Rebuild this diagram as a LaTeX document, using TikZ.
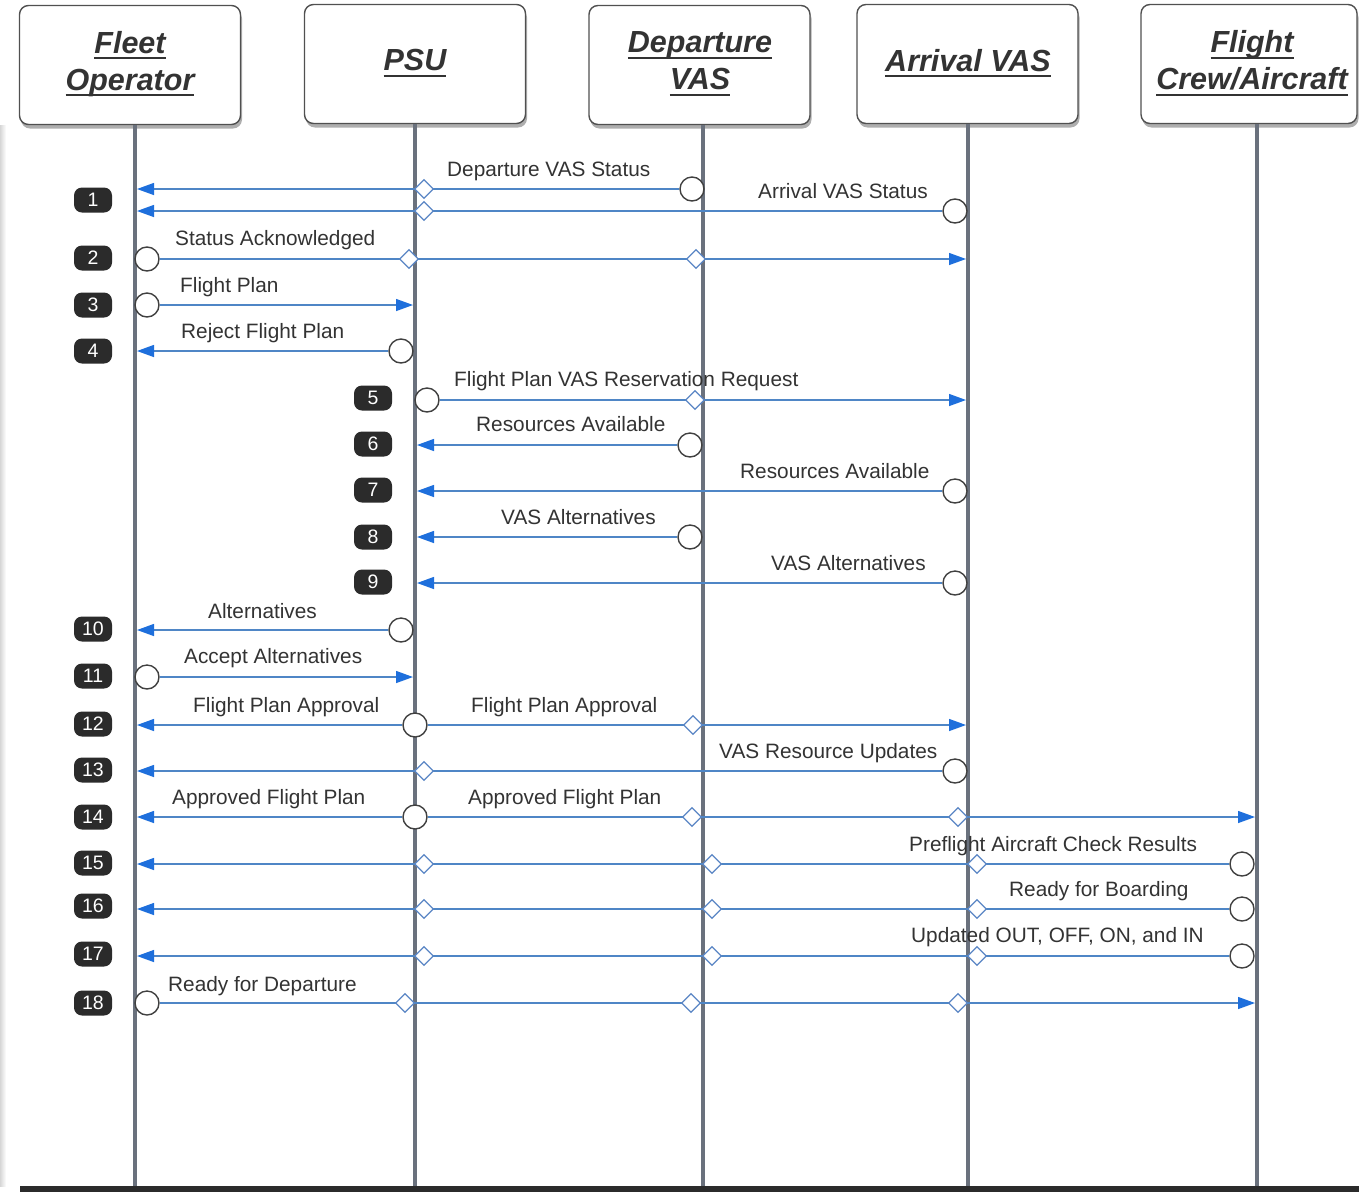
\documentclass[tikz,border=0pt]{standalone}
\usepackage{fontspec}
\usetikzlibrary{arrows.meta,shapes.geometric,shadows}
\newfontfamily\sansfam{Liberation Sans}
\newcommand\lblfont{\sansfam\fontsize{20.8}{25}\selectfont}
\newcommand\headfont{\sansfam\bfseries\itshape\fontsize{30.5}{37}\selectfont}
\newcommand\badgefont{\sansfam\fontsize{19.5}{22}\selectfont}
\newcommand\hdul[1]{\setbox0\hbox{#1}\rlap{\rule[-6pt]{\wd0}{2pt}}\box0}
\definecolor{boxline}{HTML}{505050}
\definecolor{lifegray}{HTML}{6A717D}
\definecolor{msgblue}{HTML}{4F86C6}
\definecolor{tipblue}{HTML}{1E6FDC}
\definecolor{diablue}{HTML}{5B86C5}
\definecolor{circgray}{HTML}{404040}
\definecolor{badgeblack}{HTML}{2B2B2B}
\definecolor{textgray}{HTML}{333333}
\tikzset{
  actor/.style={draw=boxline, line width=1.4pt, rounded corners=9pt, fill=white,
    minimum width=221pt, minimum height=119pt, inner sep=0,
    drop shadow={shadow xshift=1.5pt, shadow yshift=-4pt, opacity=0.45, fill=black!70}},
  actortext/.style={font=\headfont, text=textgray, align=center, inner sep=0},
  life/.style={line width=3.6pt, draw=lifegray},
  msg/.style={draw=msgblue, line width=1.3pt},
  tip/.style={-{Triangle[length=17pt,width=12pt,color=tipblue]}},
  src/.style={circle, draw=circgray, line width=1.4pt, fill=white, minimum size=24pt, inner sep=0},
  relay/.style={diamond, draw=diablue, line width=1.3pt, fill=white, minimum width=19pt,
    minimum height=19pt, inner sep=0},
  lbl/.style={font=\lblfont, text=textgray, anchor=base west, inner sep=0},
  badge/.style={fill=badgeblack, rounded corners=8pt, minimum width=38pt, minimum height=25pt,
    inner sep=0, text=white, font=\badgefont},
}
\begin{document}
\begin{tikzpicture}[x=1pt,y=-1pt]
\useasboundingbox (0,0) rectangle (1359,1192);
\fill[white] (0,0) rectangle (1359,1192);
% soft edge on the left
\shade[left color=black!16, right color=white] (0,125) rectangle (6,1186);

% participants
\node[actor] (fo)   at (130,65)    {};
\node[actor] (psu)  at (415,64)    {};
\node[actor] (dep)  at (699.5,65)  {};
\node[actor] (arr)  at (967.5,64)  {};
\node[actor, minimum width=216pt] (crew) at (1249,64) {};
\node[actortext] (foT)   at (130,64)  {\hdul{Fleet}\\\hdul{Operator}};
\node[actortext] (psuT)  at (415,63)  {\hdul{PSU}};
\node[actortext] (depT)  at (700,64)  {\hdul{Departure}\\\hdul{VAS}};
\node[actortext] (arrT)  at (968,63)  {\hdul{Arrival VAS}};
\node[actortext] (crewT) at (1252,63) {\hdul{Flight}\\\hdul{Crew/Aircraft}};

% lifelines
\coordinate (foTop) at (135,125);   \coordinate (foBot) at (135,1186);
\coordinate (psuTop) at (415,124);  \coordinate (psuBot) at (415,1186);
\coordinate (depTop) at (703,125);  \coordinate (depBot) at (703,1186);
\coordinate (arrTop) at (968,124);  \coordinate (arrBot) at (968,1186);
\coordinate (crewTop) at (1257,124);\coordinate (crewBot) at (1257,1186);
\draw[life] (foTop) -- (foBot);
\draw[life] (psuTop) -- (psuBot);
\draw[life] (depTop) -- (depBot);
\draw[life] (arrTop) -- (arrBot);
\draw[life] (crewTop) -- (crewBot);

% baseline bar
\fill[badgeblack] (20,1186) rectangle (1359,1192);

% step numbers
\node[badge] (b1)  at (93,200)  {1};
\node[badge] (b2)  at (93,258)  {2};
\node[badge] (b3)  at (93,305)  {3};
\node[badge] (b4)  at (93,351)  {4};
\node[badge] (b5)  at (373,398) {5};
\node[badge] (b6)  at (373,444) {6};
\node[badge] (b7)  at (373,490) {7};
\node[badge] (b8)  at (373,537) {8};
\node[badge] (b9)  at (373,582) {9};
\node[badge] (b10) at (93,629)  {10};
\node[badge] (b11) at (93,676)  {11};
\node[badge] (b12) at (93,724)  {12};
\node[badge] (b13) at (93,770)  {13};
\node[badge] (b14) at (93,817)  {14};
\node[badge] (b15) at (93,863)  {15};
\node[badge] (b16) at (93,906)  {16};
\node[badge] (b17) at (93,954)  {17};
\node[badge] (b18) at (93,1003) {18};

% labels
\node[lbl] (l1a) at (447,176)  {Departure VAS Status};
\node[lbl] (l1b) at (758,198)  {Arrival VAS Status};
\node[lbl] (l2)  at (175,245)  {Status Acknowledged};
\node[lbl] (l3)  at (180,292)  {Flight Plan};
\node[lbl] (l4)  at (181,338)  {Reject Flight Plan};
\node[lbl] (l5)  at (454,386)  {Flight Plan VAS Reservation Request};
\node[lbl] (l6)  at (476,431)  {Resources Available};
\node[lbl] (l7)  at (740,478)  {Resources Available};
\node[lbl] (l8)  at (501,524)  {VAS Alternatives};
\node[lbl] (l9)  at (771,570)  {VAS Alternatives};
\node[lbl] (l10) at (208,618)  {Alternatives};
\node[lbl] (l11) at (184,663)  {Accept Alternatives};
\node[lbl] (l12a) at (193,712) {Flight Plan Approval};
\node[lbl] (l12b) at (471,712) {Flight Plan Approval};
\node[lbl] (l13) at (719,758)  {VAS Resource Updates};
\node[lbl] (l14a) at (172,804) {Approved Flight Plan};
\node[lbl] (l14b) at (468,804) {Approved Flight Plan};
\node[lbl] (l15) at (909,851)  {Preflight Aircraft Check Results};
\node[lbl] (l16) at (1009,896) {Ready for Boarding};
\node[lbl] (l17) at (911,942)  {Updated OUT, OFF, ON, and IN};
\node[lbl] (l18) at (168,991)  {Ready for Departure};

% 1: status from both VAS to the fleet operator
\node[src] (m1a) at (692,189) {};
\coordinate (m1aE) at (137,189);
\draw[msg,tip] (m1a) -- (m1aE);
\node[relay] (m1aD) at (424,189) {};
\node[src] (m1b) at (955,211) {};
\coordinate (m1bE) at (137,211);
\draw[msg,tip] (m1b) -- (m1bE);
\node[relay] (m1bD) at (424,211) {};

% 2
\node[src] (m2) at (147,259) {};
\coordinate (m2E) at (966,259);
\draw[msg,tip] (m2) -- (m2E);
\node[relay] (m2D1) at (409,259) {};
\node[relay] (m2D2) at (696,259) {};

% 3
\node[src] (m3) at (147,305) {};
\coordinate (m3E) at (413,305);
\draw[msg,tip] (m3) -- (m3E);

% 4
\node[src] (m4) at (401,351) {};
\coordinate (m4E) at (137,351);
\draw[msg,tip] (m4) -- (m4E);

% 5
\node[src] (m5) at (427,400) {};
\coordinate (m5E) at (966,400);
\draw[msg,tip] (m5) -- (m5E);
\node[relay] (m5D) at (695,400) {};

% 6
\node[src] (m6) at (690,445) {};
\coordinate (m6E) at (417,445);
\draw[msg,tip] (m6) -- (m6E);

% 7
\node[src] (m7) at (955,491) {};
\coordinate (m7E) at (417,491);
\draw[msg,tip] (m7) -- (m7E);

% 8
\node[src] (m8) at (690,537) {};
\coordinate (m8E) at (417,537);
\draw[msg,tip] (m8) -- (m8E);

% 9
\node[src] (m9) at (955,583) {};
\coordinate (m9E) at (417,583);
\draw[msg,tip] (m9) -- (m9E);

% 10
\node[src] (m10) at (401,630) {};
\coordinate (m10E) at (137,630);
\draw[msg,tip] (m10) -- (m10E);

% 11
\node[src] (m11) at (147,677) {};
\coordinate (m11E) at (413,677);
\draw[msg,tip] (m11) -- (m11E);

% 12: approval to fleet operator and arrival VAS
\node[src] (m12) at (415,725) {};
\coordinate (m12W) at (137,725);
\coordinate (m12E) at (966,725);
\draw[msg,tip] (m12) -- (m12W);
\draw[msg,tip] (m12) -- (m12E);
\node[relay] (m12D) at (693,725) {};

% 13
\node[src] (m13) at (955,771) {};
\coordinate (m13E) at (137,771);
\draw[msg,tip] (m13) -- (m13E);
\node[relay] (m13D) at (424,771) {};

% 14: approved plan to fleet operator and flight crew
\node[src] (m14) at (415,817) {};
\coordinate (m14W) at (137,817);
\coordinate (m14E) at (1255,817);
\draw[msg,tip] (m14) -- (m14W);
\draw[msg,tip] (m14) -- (m14E);
\node[relay] (m14D1) at (692,817) {};
\node[relay] (m14D2) at (958,817) {};

% 15
\node[src] (m15) at (1242,864) {};
\coordinate (m15E) at (137,864);
\draw[msg,tip] (m15) -- (m15E);
\node[relay] (m15D1) at (424,864) {};
\node[relay] (m15D2) at (712,864) {};
\node[relay] (m15D3) at (977,864) {};

% 16
\node[src] (m16) at (1242,909) {};
\coordinate (m16E) at (137,909);
\draw[msg,tip] (m16) -- (m16E);
\node[relay] (m16D1) at (424,909) {};
\node[relay] (m16D2) at (712,909) {};
\node[relay] (m16D3) at (977,909) {};

% 17
\node[src] (m17) at (1242,956) {};
\coordinate (m17E) at (137,956);
\draw[msg,tip] (m17) -- (m17E);
\node[relay] (m17D1) at (424,956) {};
\node[relay] (m17D2) at (712,956) {};
\node[relay] (m17D3) at (977,956) {};

% 18
\node[src] (m18) at (147,1003) {};
\coordinate (m18E) at (1255,1003);
\draw[msg,tip] (m18) -- (m18E);
\node[relay] (m18D1) at (405,1003) {};
\node[relay] (m18D2) at (691,1003) {};
\node[relay] (m18D3) at (958,1003) {};
\end{tikzpicture}
\end{document}
